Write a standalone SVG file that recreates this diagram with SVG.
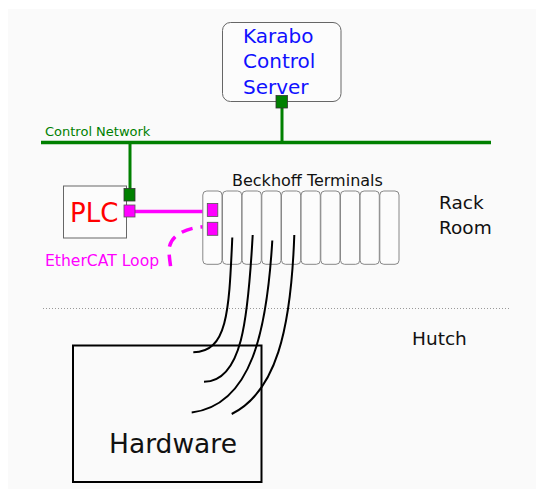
<svg xmlns="http://www.w3.org/2000/svg" width="536" height="489" viewBox="0 0 536 489">
<style>
text{font-family:"DejaVu Sans","Liberation Sans",sans-serif}
.box{fill:#fcfcfc;stroke:#666;stroke-width:1}
.term{fill:#fcfcfc;stroke:#888;stroke-width:1}
.gport{fill:#008000;stroke:#333;stroke-width:0.8}
.mport{fill:#ff00ff;stroke:#555;stroke-width:0.8}
.wire{fill:none;stroke:#000;stroke-width:2}
</style>
<rect x="8" y="9" width="528" height="480" fill="#fafafa"/>
<g id="connectors">
<line x1="41" y1="142.5" x2="491" y2="142.5" stroke="#008000" stroke-width="3.5"/>
<line x1="282" y1="105" x2="282" y2="142.5" stroke="#008000" stroke-width="3"/>
<line x1="130" y1="142.5" x2="130" y2="190" stroke="#008000" stroke-width="3"/>
<line x1="130" y1="211.5" x2="212" y2="211.5" stroke="#ff00ff" stroke-width="3.5"/>
<path d="M212,226.5 C186,226 168,236 169,252 C169.5,260 170.5,265 171,270" fill="none" stroke="#ff00ff" stroke-width="3.5" stroke-dasharray="11.5,8"/>
<line x1="43" y1="308.5" x2="509" y2="308.5" stroke="#999" stroke-width="1" stroke-dasharray="1,2"/>
</g>
<g id="control-network-label">
<text x="45" y="136" font-size="13" fill="#008000">Control Network</text>
</g>
<g id="karabo">
<rect class="box" x="222.5" y="22.5" width="118.5" height="79" rx="8"/>
<text x="243" y="42.5" font-size="20" fill="#1010ff">Karabo</text>
<text x="243" y="68.3" font-size="20" fill="#1010ff">Control</text>
<text x="243" y="94" font-size="20" fill="#1010ff">Server</text>
<rect class="gport" x="276" y="95.5" width="11.5" height="12.5"/>
</g>
<g id="plc">
<rect class="box" x="63.5" y="186" width="63" height="52"/>
<text x="70" y="222" font-size="26" fill="#ff0000">PLC</text>
<rect class="gport" x="124" y="188.5" width="11" height="12.5"/>
<rect class="mport" x="124" y="205" width="11" height="12"/>
</g>
<g id="ethercat-label">
<text x="45" y="266" font-size="15.6" fill="#ff00ff">EtherCAT Loop</text>
</g>
<g id="beckhoff">
<text x="232" y="185.5" font-size="16" fill="#111">Beckhoff Terminals</text>
<rect class="term" x="202.8" y="191" width="19.2" height="73.3" rx="4"/>
<rect class="term" x="222.5" y="191" width="19.2" height="73.3" rx="4"/>
<rect class="term" x="242.1" y="191" width="19.2" height="73.3" rx="4"/>
<rect class="term" x="261.8" y="191" width="19.2" height="73.3" rx="4"/>
<rect class="term" x="281.5" y="191" width="19.2" height="73.3" rx="4"/>
<rect class="term" x="301.1" y="191" width="19.2" height="73.3" rx="4"/>
<rect class="term" x="320.8" y="191" width="19.2" height="73.3" rx="4"/>
<rect class="term" x="340.5" y="191" width="19.2" height="73.3" rx="4"/>
<rect class="term" x="360.1" y="191" width="19.2" height="73.3" rx="4"/>
<rect class="term" x="379.8" y="191" width="19.2" height="73.3" rx="4"/>
<rect class="mport" x="207.3" y="203.5" width="10.5" height="13"/>
<rect class="mport" x="207.3" y="222.3" width="10.5" height="13"/>
</g>
<g id="rack-room">
<text x="439" y="209" font-size="18.5" fill="#111">Rack</text>
<text x="439" y="233.5" font-size="18.5" fill="#111">Room</text>
</g>
<g id="hutch">
<text x="412" y="345" font-size="18.5" fill="#111">Hutch</text>
</g>
<g id="hardware">
<rect x="73" y="345.5" width="188.5" height="136.5" fill="none" stroke="#000" stroke-width="2"/>
<text x="109" y="452.5" font-size="26.5" fill="#111">Hardware</text>
</g>
<g id="wires">
<path class="wire" d="M232.3,237.5 C229,310 228,352 193.3,352.3"/>
<path class="wire" d="M252.7,235 C248,320 242,381.5 204,381.7"/>
<path class="wire" d="M272.3,240.5 C267,330 252,405 191.7,412.5"/>
<path class="wire" d="M294.3,235 C291,330 276,392 231.7,414"/>
</g>
</svg>
